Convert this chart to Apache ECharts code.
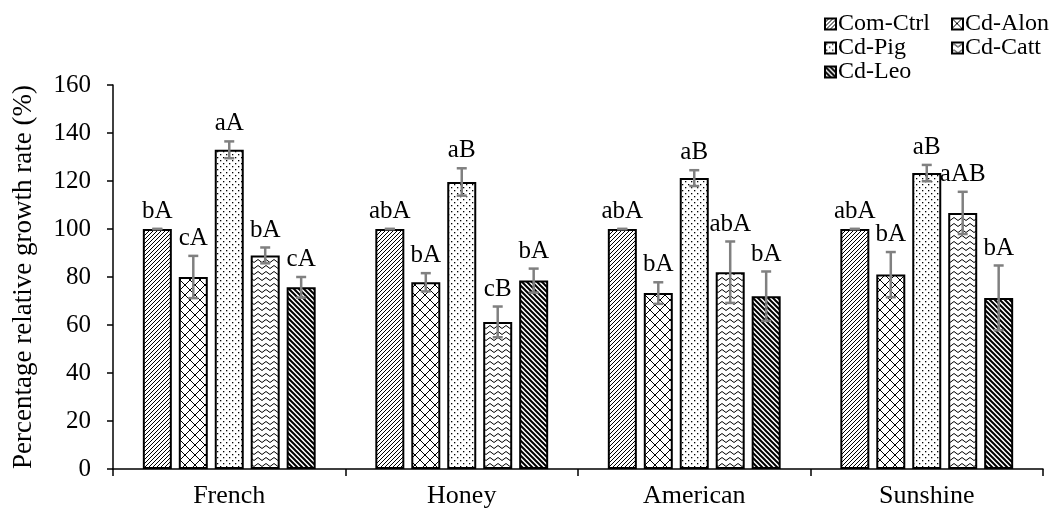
<!DOCTYPE html>
<html><head><meta charset="utf-8">
<script src="https://cdn.jsdelivr.net/npm/echarts@6/dist/echarts.min.js"></script>
<style>html,body{margin:0;padding:0;background:#fff}#c{width:1053px;height:512px}</style>
</head><body><div id="c"></div>
<script>
var categories = ['French', 'Honey', 'American', 'Sunshine'];
var seriesNames = ['Com-Ctrl', 'Cd-Alon', 'Cd-Pig', 'Cd-Catt', 'Cd-Leo'];
var comCtrl = [100, 100, 100, 100];
var cdAlon  = [80, 77.8, 73.3, 81];
var cdPig   = [133, 119.6, 121.2, 123.3];
var cdCatt  = [89, 61.3, 82, 106.7];
var cdLeo   = [75.7, 78.5, 72, 71.3];
var errComCtrl = [0, 0, 0, 0];
var errCdAlon  = [8.8, 3.8, 4.5, 9.4];
var errCdPig   = [3.5, 5.7, 3.3, 3.4];
var errCdCatt  = [3.3, 6.4, 12.8, 8.8];
var errCdLeo   = [4.3, 5, 10.3, 13.5];
var lblComCtrl = ['bA', 'abA', 'abA', 'abA'];
var lblCdAlon  = ['cA', 'bA', 'bA', 'bA'];
var lblCdPig   = ['aA', 'aB', 'aB', 'aB'];
var lblCdCatt  = ['bA', 'cB', 'abA', 'aAB'];
var lblCdLeo   = ['cA', 'bA', 'bA', 'bA'];
var yTicks = {min: 0, max: 160, interval: 20};

var values = [comCtrl, cdAlon, cdPig, cdCatt, cdLeo];
var errs = [errComCtrl, errCdAlon, errCdPig, errCdCatt, errCdLeo];
var lbls = [lblComCtrl, lblCdAlon, lblCdPig, lblCdCatt, lblCdLeo];

function tile(w, h, draw) {
  var c = document.createElement('canvas');
  c.width = w; c.height = h;
  var g = c.getContext('2d');
  g.fillStyle = '#fff'; g.fillRect(0, 0, w, h);
  g.strokeStyle = '#000'; g.fillStyle = '#000';
  draw(g, w, h);
  return c;
}
var pats = [
  tile(4, 4, function (g, w, h) { g.lineWidth = 1; g.beginPath();
    g.moveTo(-1, 5); g.lineTo(5, -1); g.moveTo(-1, 1); g.lineTo(1, -1); g.moveTo(3, 5); g.lineTo(5, 3); g.stroke(); }),
  tile(10, 10, function (g) { g.lineWidth = 1; g.beginPath();
    g.moveTo(0, 0); g.lineTo(10, 10); g.moveTo(0, 10); g.lineTo(10, 0); g.stroke(); }),
  tile(6, 6, function (g) { g.fillRect(1, 1, 1.3, 1.3); g.fillRect(4, 4, 1.3, 1.3); }),
  tile(8, 6, function (g) { g.lineWidth = 1; g.beginPath();
    g.moveTo(0, 3); g.quadraticCurveTo(2, 0, 4, 3); g.quadraticCurveTo(6, 6, 8, 3); g.stroke(); }),
  tile(5, 5, function (g) { g.lineWidth = 2; g.beginPath();
    g.moveTo(-1, -1); g.lineTo(6, 6); g.moveTo(-1, 4); g.lineTo(1, 6); g.moveTo(4, -1); g.lineTo(6, 1); g.stroke(); })
];

var FONT = 'Liberation Serif';
var BAR_W = 29, BAR_GAP = 0.24;

var series = [];
seriesNames.forEach(function (name, i) {
  series.push({
    name: name, type: 'bar', barWidth: BAR_W, barGap: (BAR_GAP * 100) + '%',
    data: values[i],
    itemStyle: {color: {image: pats[i], repeat: 'repeat'}, borderColor: '#000', borderWidth: 2},
    emphasis: {disabled: true}, z: 2
  });
});
seriesNames.forEach(function (name, i) {
  series.push({
    type: 'custom', z: 5, silent: true,
    data: categories.map(function (c, k) { return [k, values[i][k], errs[i][k], lbls[i][k]]; }),
    renderItem: function (params, api) {
      var k = api.value(0), v = api.value(1), e = api.value(2);
      var step = BAR_W * (1 + BAR_GAP);
      var off = (i - 2) * step;
      var top = api.coord([k, v + e]);
      var bot = api.coord([k, v - e]);
      var x = top[0] + off;
      var cap = 5;
      var st = {stroke: '#808080', lineWidth: 2.5};
      return {type: 'group', children: [
        {type: 'line', shape: {x1: x, y1: top[1], x2: x, y2: bot[1]}, style: st},
        {type: 'line', shape: {x1: x - cap, y1: top[1], x2: x + cap, y2: top[1]}, style: st},
        {type: 'line', shape: {x1: x - cap, y1: bot[1], x2: x + cap, y2: bot[1]}, style: st},
        {type: 'text', style: {text: lbls[i][k], x: x, y: top[1] - 5, align: 'center', verticalAlign: 'bottom',
          font: '25px "' + FONT + '"', fill: '#000'}}
      ]};
    }
  });
});

var legendText = {fontFamily: FONT, fontSize: 24, color: '#000', padding: [0, 0, 0, -3], lineHeight: 23};
var chart = echarts.init(document.getElementById('c'), null, {renderer: 'canvas'});
chart.setOption({
  animation: false,
  backgroundColor: '#fff',
  textStyle: {fontFamily: FONT},
  grid: {left: 113, right: 10, top: 85, bottom: 43, containLabel: false},
  legend: [
    {data: ['Com-Ctrl', 'Cd-Pig', 'Cd-Leo'], orient: 'vertical', left: 819, top: 7, itemWidth: 11, itemHeight: 11,
      itemGap: 0, icon: 'rect', itemStyle: {borderColor: '#000', borderWidth: 2}, textStyle: legendText},
    {data: ['Cd-Alon', 'Cd-Catt'], orient: 'vertical', left: 946, top: 7, itemWidth: 11, itemHeight: 11,
      itemGap: 0, icon: 'rect', itemStyle: {borderColor: '#000', borderWidth: 2}, textStyle: legendText}
  ],
  xAxis: {
    type: 'category', data: categories,
    axisLine: {lineStyle: {color: '#000', width: 1.5}},
    axisTick: {show: true, length: 7, lineStyle: {color: '#000', width: 1.5}},
    axisLabel: {fontFamily: FONT, fontSize: 26, color: '#000', margin: 14},
    splitLine: {show: false}
  },
  yAxis: {
    type: 'value', min: yTicks.min, max: yTicks.max, interval: yTicks.interval,
    name: 'Percentage relative growth rate (%)', nameLocation: 'middle', nameGap: 76,
    nameTextStyle: {fontFamily: FONT, fontSize: 27, color: '#000'},
    axisLine: {show: true, lineStyle: {color: '#000', width: 1.5}},
    axisTick: {show: true, length: 6, lineStyle: {color: '#000', width: 1.5}},
    axisLabel: {fontFamily: FONT, fontSize: 25, color: '#000', margin: 22},
    splitLine: {show: false}
  },
  series: series
});
</script></body></html>
